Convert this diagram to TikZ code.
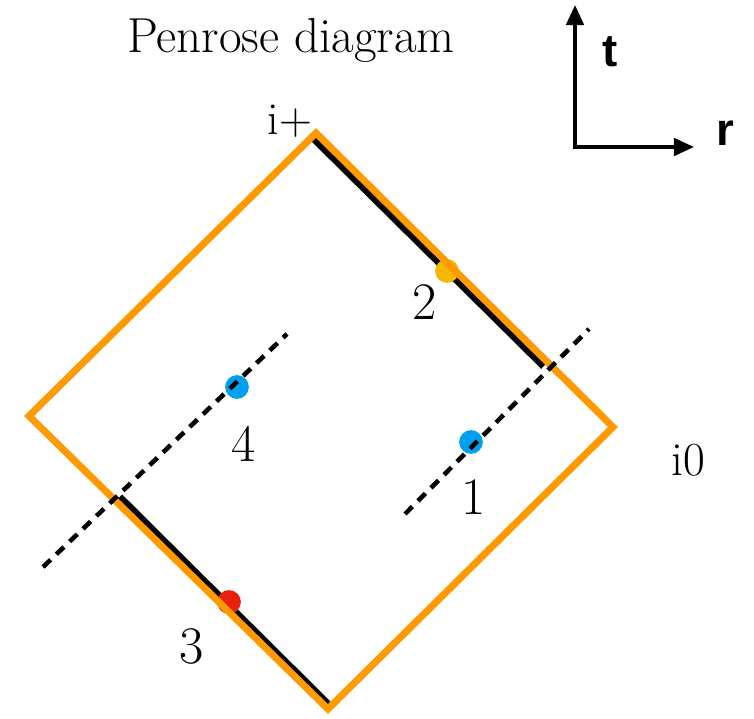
\documentclass[tikz,border=0pt]{standalone}
\usepackage{fontspec}
\newfontfamily\axisfont{Liberation Sans}
\usetikzlibrary{arrows.meta, calc}
\definecolor{penrose-orange}{HTML}{FF9900}
\definecolor{event-yellow}{HTML}{F5B800}
\definecolor{event-blue}{HTML}{00A0F0}
\definecolor{event-red}{HTML}{E8200E}

\begin{document}
\begin{tikzpicture}[x=0.02cm, y=-0.02cm,
    edge/.style={penrose-orange, line width=4pt, line join=miter},
    horizon/.style={black, line width=4pt},
    worldline/.style={black, line width=2.6pt, dash pattern=on 6pt off 4.5pt},
    event/.style={circle, fill=#1, minimum size=13.5pt, inner sep=0pt},
    axisarrow/.style={line width=2pt, -{Triangle[length=11.5pt, width=10pt]}},
    lbl/.style={inner sep=0pt, font=\fontsize{30}{34}\selectfont}]
    \useasboundingbox (0,0) rectangle (754,719);

    % corners of the diagram
    \coordinate (iplus) at (316,133);
    \coordinate (izero) at (613,427);
    \coordinate (ibot) at (328,709);
    \coordinate (ileft) at (29,416);

    % horizons
    \draw[horizon] ($(iplus)+(-4,4)$) -- ($(iplus)!0.78!(izero)+(-4,4)$);
    \draw[horizon] ($(ileft)!0.29!(ibot)+(4,-4)$) -- ($(ibot)+(0,-5)$);

    % events
    \node[event=event-yellow] (e2) at (447,271) {};
    \node[event=event-blue] (e4) at (237,387) {};
    \node[event=event-blue] (e1) at (471,442) {};
    \node[event=event-red] (e3) at (229,602) {};

    \draw[edge] (iplus) -- (izero) -- (ibot) -- (ileft) -- cycle;

    % world lines
    \coordinate (w1a) at (405,514);
    \coordinate (w1b) at (589,329);
    \coordinate (w4a) at (43,567);
    \coordinate (w4b) at (287,334);
    \draw[worldline] (w1a) -- (w1b);
    \draw[worldline] (w4a) -- (w4b);

    % labels
    \node[font=\fontsize{28}{32}\selectfont] (title) at (291,40) {Penrose diagram};
    \node[inner sep=0pt, font=\fontsize{26}{30}\selectfont] (lplus) at (290,121) {i+};
    \node[inner sep=0pt, font=\fontsize{27}{30}\selectfont] (lzero) at (688,460) {i0};
    \node[lbl] (l1) at (474,497) {1};
    \node[lbl] (l2) at (425,302) {2};
    \node[lbl] (l3) at (192,646) {3};
    \node[lbl] (l4) at (244,444) {4};

    % axes
    \coordinate (origin) at (575,147);
    \coordinate (tend) at (575,5);
    \coordinate (rend) at (694,147);
    \draw[axisarrow] ($(origin)+(0,2)$) -- (tend);
    \draw[axisarrow] (origin) -- (rend);
    \node[inner sep=0pt, font=\axisfont\bfseries\fontsize{26}{30}\selectfont] (lt) at (610,52) {t};
    \node[inner sep=0pt, font=\axisfont\bfseries\fontsize{26}{30}\selectfont] (lr) at (725,133) {r};
\end{tikzpicture}
\end{document}
